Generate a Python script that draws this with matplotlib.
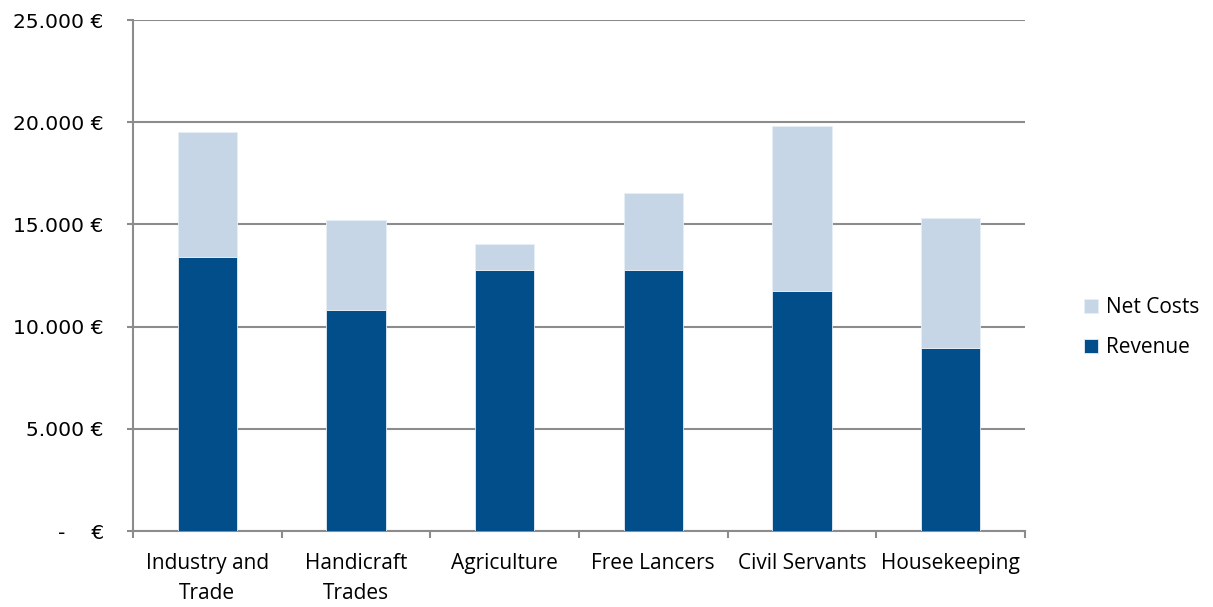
import matplotlib
matplotlib.use("Agg")
import matplotlib.pyplot as plt
from matplotlib.ticker import FuncFormatter, FixedLocator
import numpy as np

categories = ["Industry and\nTrade", "Handicraft\nTrades", "Agriculture", "Free Lancers", "Civil Servants", "Housekeeping"]
revenue = [13400, 10800, 12750, 12770, 11750, 8950]
net_costs = [6100, 4400, 1300, 3750, 8050, 6380]

rev_color = "#024E8A"
cost_color = "#C7D6E6"
grid_color = "#8C8C8C"

plt.rcParams['font.family'] = ['Open Sans', 'DejaVu Sans']

fig = plt.figure(figsize=(12.13, 6.07), dpi=100)
ax = fig.add_axes([0.1096, 0.1252, 0.845 - 0.1096, 0.967 - 0.1252])

x = np.arange(len(categories))
w = 0.40
ax.bar(x, revenue, w, color=rev_color, edgecolor="#E6EEF6", linewidth=0.6, label="Revenue", zorder=3)
ax.bar(x, net_costs, w, bottom=revenue, color=cost_color, edgecolor="#E6EEF6", linewidth=0.6, label="Net Costs", zorder=3)

ax.set_xlim(-0.5, len(categories) - 0.5)
ax.set_ylim(0, 25000)
ax.set_yticks(np.arange(0, 25001, 5000))

def fmt(v, pos):
    if v == 0:
        return "-    €"
    return f"{int(v):,} €".replace(",", ".")

ax.yaxis.set_major_formatter(FuncFormatter(fmt))
ax.yaxis.grid(True, color=grid_color, linewidth=1.5, zorder=0)
ax.set_axisbelow(True)

ax.set_xticks(x)
ax.set_xticklabels(categories, fontsize=15, linespacing=1.55)
ax.xaxis.set_minor_locator(FixedLocator(np.arange(-0.5, len(categories), 1.0)))
ax.tick_params(axis='x', which='major', length=0, pad=16)
ax.tick_params(axis='x', which='minor', length=5, width=1.5, color=grid_color, direction='out')
ax.tick_params(axis='y', which='major', length=4, width=1.5, color=grid_color, labelsize=14.6, pad=17, direction='out')
for lbl in ax.get_yticklabels():
    lbl.set_fontfamily(['DejaVu Sans'])

for s in ["top", "right"]:
    ax.spines[s].set_visible(False)
ax.spines["left"].set_color(grid_color)
ax.spines["left"].set_linewidth(1.5)
ax.spines["bottom"].set_color(grid_color)
ax.spines["bottom"].set_linewidth(1.5)

handles, labels = ax.get_legend_handles_labels()
leg = fig.legend(handles[::-1], labels[::-1], loc="center left", bbox_to_anchor=(0.878, 0.46),
                 frameon=False, fontsize=15, handlelength=0.7, handleheight=0.7,
                 handletextpad=0.35, labelspacing=0.9)

fig.savefig("out.png", dpi=100)
